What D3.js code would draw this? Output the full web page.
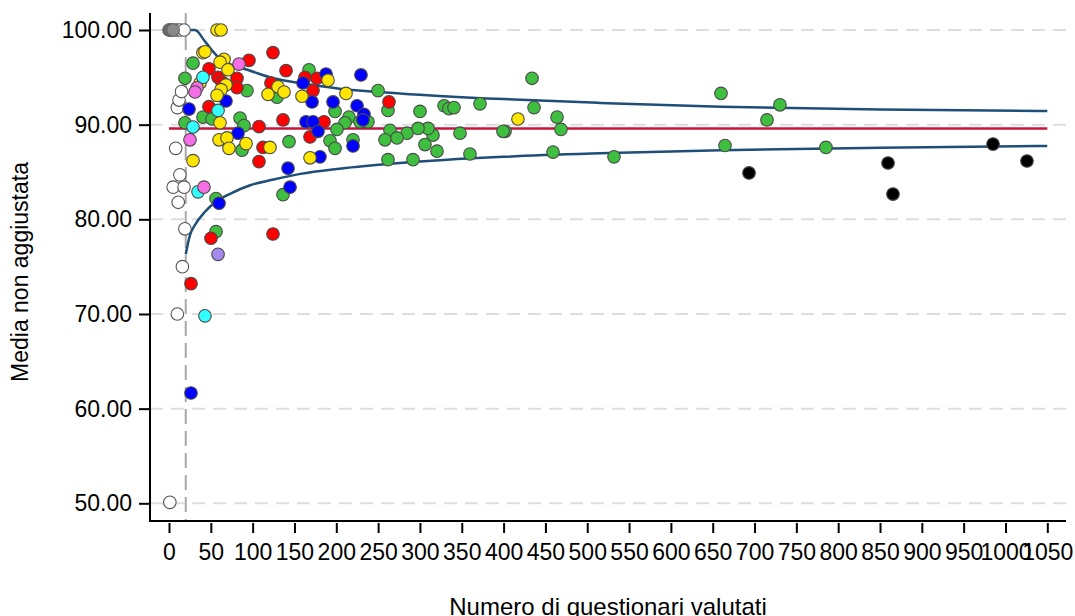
<!DOCTYPE html>
<html>
<head>
<meta charset="utf-8">
<script src="https://cdn.jsdelivr.net/npm/d3@7"></script>
<style>
  html, body { margin: 0; padding: 0; background: #fff; }
  svg { display: block; }
  text { font-family: "Liberation Sans", Arial, Helvetica, sans-serif; fill: #000; }
</style>
</head>
<body>
<svg id="chart" width="1075" height="616"></svg>
<script>
// Funnel plot: unadjusted mean score vs number of evaluated questionnaires.
// Each group is a list of [n questionnaires, mean score].

const whitePts = [[1,50.1],[10,70.0],[16,75.0],[19,79.0],[11,81.8],[5,83.4],[18,83.4],[13,84.7],
  [8,87.5],[10,91.8],[12,92.6],[15,93.5],[9,100],[13,100],[18,100]];
const grayPts = [[0,100],[1,100],[2,100],[3,100],[4,100],[5,100]];
const greenPts = [[28.7,96.5],[19.1,94.9],[40.6,90.8],[51.4,90.6],[19.1,90.2],[84.9,90.7],[89.7,89.9],
  [93.2,93.6],[87.3,87.3],[143.5,88.2],[129.1,92.9],[167.4,95.8],[198.5,91.4],[192.5,88.3],[198.5,87.5],
  [220.0,88.4],[215.2,90.8],[228.3,90.3],[237.9,90.3],[210.4,90.2],[200.8,89.5],[249.9,93.6],[261.8,91.5],
  [300.1,91.4],[328.8,92.0],[334.7,91.7],[340.7,91.8],[371.8,92.2],[434.0,94.9],[436.4,91.8],[463.9,90.8],
  [468.6,89.5],[401.7,89.3],[399.3,89.3],[347.9,89.1],[315.6,88.9],[309.6,89.6],[297.7,89.6],[284.5,89.1],
  [264.2,89.4],[258.2,88.4],[272.6,88.6],[306.0,87.9],[320.4,87.2],[291.7,86.3],[261.8,86.3],[359.8,86.9],
  [459.1,87.1],[532.0,86.6],[659.9,93.3],[664.7,87.8],[714.9,90.5],[730.4,92.1],[785.4,87.6],
  [56.2,82.2],[136.3,82.6],[56.2,78.7]];
const redPts = [[95.6,96.8],[124.3,97.6],[47.8,95.9],[58.6,95.0],[63.4,94.5],[81.3,94.9],[81.3,93.9],
  [139.9,95.7],[121.9,94.4],[162.6,95.0],[176.9,94.9],[172.2,93.6],[47.8,91.9],[107.6,89.8],[136.3,90.5],
  [185.3,90.3],[168.6,88.7],[112.4,87.6],[107.6,86.1],[263.0,92.4],[50.2,78.0],[124.3,78.45],[26.3,73.2]];
const bluePts = [[68.1,92.5],[23.9,91.65],[82.5,89.1],[160.2,94.4],[187.7,95.35],[229.5,95.25],[171.0,92.4],
  [196.1,92.4],[224.8,92.0],[233.1,91.1],[231.9,90.5],[163.8,90.3],[172.2,90.3],[178.1,89.3],[220.0,87.75],
  [180.5,86.6],[142.3,85.4],[144.7,83.4],[59.8,81.7],[26.3,61.65]];
const yellowPts = [[57.4,100],[62.2,100],[40.6,97.6],[43.0,97.7],[65.8,96.9],[61.0,96.6],[70.5,95.8],
  [68.1,94.2],[62.2,93.7],[57.4,93.1],[37.1,94.4],[61.0,90.2],[59.8,88.4],[69.3,88.6],[71.7,87.5],
  [92.1,88.0],[120.7,87.6],[118.4,93.2],[130.3,94.0],[137.5,93.45],[159.0,93.0],[168.6,86.5],[190.1,94.7],
  [211.6,93.3],[417.2,90.6],[28.7,86.2]];
const cyanPts = [[40.6,95.0],[58.6,91.5],[28.7,89.75],[34.7,82.9],[43.0,69.8]];
const pinkPts = [[83.7,96.4],[33.5,93.9],[31.1,93.45],[25.1,88.4],[41.8,83.4]];
const purplePts = [[58.6,76.3]];
const blackPts = [[693.4,84.9],[859.6,85.95],[865.5,82.67],[985.1,87.95],[1025.7,86.16]];

// overall mean and control limits
const overallMean = 89.6;
const minN = 20;
const limitN     = [20, 25, 31, 43, 57, 73, 97, 125, 157, 204, 276, 400, 515, 660, 850, 1050];
const upperLimit = [100, 100, 100, 98.8, 97.3, 96.4, 95.7, 94.9, 94.4, 93.8, 93.3, 92.7, 92.3, 91.9, 91.6, 91.45];
const lowerLimit = [76.3, 78.3, 79.4, 80.8, 81.9, 82.7, 83.6, 84.2, 84.8, 85.35, 85.95, 86.6, 86.97, 87.3, 87.55, 87.75];

const xTicks = d3.range(0, 1051, 50);
const yTicks = [50, 60, 70, 80, 90, 100];

const groups = [
  { pts: whitePts,  fill: "#ffffff", stroke: "#555555" },
  { pts: grayPts,   fill: "#8a8a8a", stroke: "#666666" },
  { pts: greenPts,  fill: "#3fbf3f", stroke: "#4a4a4a" },
  { pts: redPts,    fill: "#ff0000", stroke: "#4a4a4a" },
  { pts: bluePts,   fill: "#0000ff", stroke: "#4a4a4a" },
  { pts: yellowPts, fill: "#ffe600", stroke: "#4a4a4a" },
  { pts: cyanPts,   fill: "#33ffff", stroke: "#4a4a4a" },
  { pts: pinkPts,   fill: "#f56ee6", stroke: "#4a4a4a" },
  { pts: purplePts, fill: "#a58af0", stroke: "#4a4a4a" },
  { pts: blackPts,  fill: "#000000", stroke: "#444444" }
];

const svg = d3.select("#chart");
const plotLeft = 150, plotRight = 1066, plotTop = 13, plotBottom = 521;

const x = d3.scaleLinear().domain([0, 1050]).range([169, 1047.3]);
const y = d3.scaleLinear().domain([50, 100]).range([503.3, 30]);

// horizontal dashed grid
svg.append("g").selectAll("line").data(yTicks).join("line")
  .attr("x1", plotLeft).attr("x2", plotRight)
  .attr("y1", d => y(d)).attr("y2", d => y(d))
  .attr("stroke", "#dddddd").attr("stroke-width", 2).attr("stroke-dasharray", "13,8");

// minimum sample size marker
svg.append("line")
  .attr("x1", x(minN)).attr("x2", x(minN)).attr("y1", plotTop).attr("y2", plotBottom)
  .attr("stroke", "#a8a8a8").attr("stroke-width", 2).attr("stroke-dasharray", "15,7");

// mean line
svg.append("line")
  .attr("x1", x(0)).attr("x2", x(1050))
  .attr("y1", y(overallMean)).attr("y2", y(overallMean))
  .attr("stroke", "#c8143c").attr("stroke-width", 2.5);

// control limits
const limitLine = arr => d3.line()
  .x((d, i) => x(limitN[i])).y(d => y(d)).curve(d3.curveMonotoneX)(arr);
[upperLimit, lowerLimit].forEach(arr => {
  svg.append("path").attr("d", limitLine(arr))
    .attr("fill", "none").attr("stroke", "#1f4e79").attr("stroke-width", 2.5);
});

// points
groups.forEach(g => {
  svg.append("g").selectAll("circle").data(g.pts).join("circle")
    .attr("cx", d => x(d[0])).attr("cy", d => y(d[1])).attr("r", 6.3)
    .attr("fill", g.fill).attr("stroke", g.stroke).attr("stroke-width", 1.1);
});

// axis lines
svg.append("line").attr("x1", plotLeft).attr("x2", plotLeft).attr("y1", plotTop).attr("y2", plotBottom)
  .attr("stroke", "#000").attr("stroke-width", 2);
svg.append("line").attr("x1", plotLeft - 1).attr("x2", plotRight).attr("y1", plotBottom).attr("y2", plotBottom)
  .attr("stroke", "#000").attr("stroke-width", 2);

// y axis ticks and labels
const yAxis = d3.axisLeft(y).tickValues(yTicks).tickFormat(d3.format(".2f"))
  .tickSize(11).tickPadding(7);
const gy = svg.append("g").attr("transform", `translate(${plotLeft},0)`).call(yAxis);
gy.select(".domain").remove();
gy.selectAll(".tick line").attr("stroke", "#000").attr("stroke-width", 2);
gy.selectAll(".tick text").attr("font-size", 23).attr("font-family", "Liberation Sans, Arial, sans-serif");

// x axis ticks and labels
const xAxis = d3.axisBottom(x).tickValues(xTicks).tickFormat(d3.format("d"))
  .tickSize(10).tickPadding(11);
const gx = svg.append("g").attr("transform", `translate(0,${plotBottom + 2})`).call(xAxis);
gx.select(".domain").remove();
gx.selectAll(".tick line").attr("stroke", "#000").attr("stroke-width", 2);
gx.selectAll(".tick text").attr("font-size", 23).attr("font-family", "Liberation Sans, Arial, sans-serif");

// axis titles
svg.append("text").attr("x", 608).attr("y", 615).attr("text-anchor", "middle")
  .attr("font-size", 24).text("Numero di questionari valutati");
svg.append("text").attr("transform", "translate(28,272) rotate(-90)").attr("text-anchor", "middle")
  .attr("font-size", 23).text("Media non aggiustata");
</script>
</body>
</html>
